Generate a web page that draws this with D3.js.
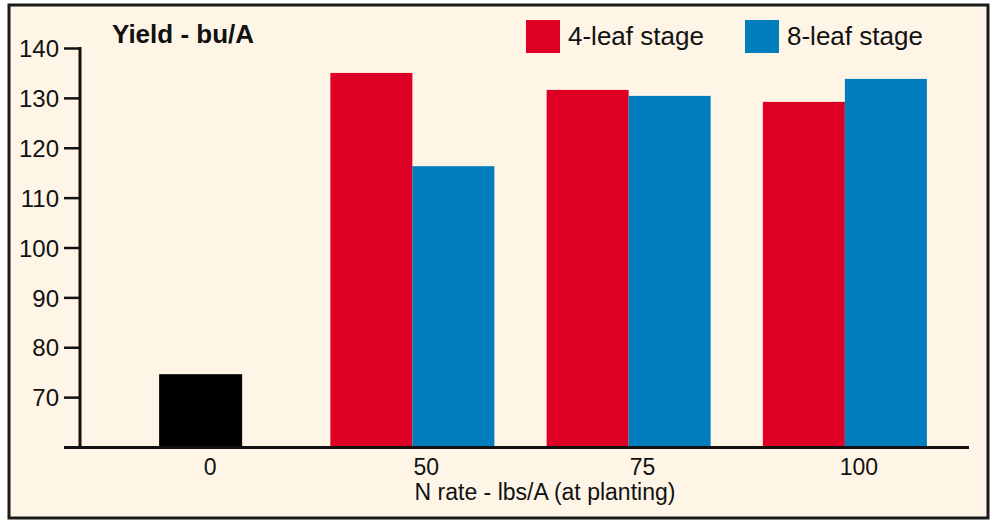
<!DOCTYPE html>
<html>
<head>
<meta charset="utf-8">
<script src="https://cdn.jsdelivr.net/npm/d3@7"></script>
<style>
  html, body { margin: 0; padding: 0; background: #ffffff; }
  svg { display: block; }
  text { font-family: "Liberation Sans", Arial, Helvetica, sans-serif; fill: #111; }
</style>
</head>
<body>
<svg id="chart" width="994" height="521"></svg>
<script>
// N rates at planting (lbs/A) and the corn yield (bu/A) at each rate
const rates = ["0", "50", "75", "100"];
const stages = ["4-leaf stage", "8-leaf stage"];
const checkYield = 74.6;                 // no nitrogen applied
const fedRates = ["50", "75", "100"];
const leaf4Yield = [135.0, 131.6, 129.2];
const leaf8Yield = [116.3, 130.4, 133.8];
const yTicks = [70, 80, 90, 100, 110, 120, 130, 140];

const stageColors = ["#dd0024", "#007dbd"];
const checkColor = "#000000";

const svg = d3.select("#chart");

// framed panel
svg.append("rect")
  .attr("x", 9).attr("y", 5)
  .attr("width", 979).attr("height", 513)
  .attr("fill", "#fff5e6")
  .attr("stroke", "#1a1a1a")
  .attr("stroke-width", 3);

const y = d3.scaleLinear().domain([60, 140]).range([447, 48]);
const x = d3.scaleBand().domain(rates).range([88, 953]).padding(0);
const barW = 82;
const inner = d3.scaleBand().domain(stages).range([0, barW * 2]);

// bars for the fed rates, one pair per rate
const rows = fedRates.map((r, i) => ({ rate: r, values: [leaf4Yield[i], leaf8Yield[i]] }));
const groups = svg.append("g").selectAll("g")
  .data(rows).join("g")
  .attr("transform", d => `translate(${x(d.rate) + x.bandwidth() / 2 - barW},0)`);
groups.selectAll("rect")
  .data(d => d.values.map((v, j) => ({ stage: stages[j], v, j })))
  .join("rect")
  .attr("x", d => inner(d.stage))
  .attr("width", inner.bandwidth())
  .attr("y", d => y(d.v))
  .attr("height", d => y(60) - y(d.v))
  .attr("fill", d => stageColors[d.j]);

// check plot (0 N)
svg.append("rect")
  .attr("x", x("0") + x.bandwidth() / 2 - barW / 2 + 4)
  .attr("width", barW + 1)
  .attr("y", y(checkYield))
  .attr("height", y(60) - y(checkYield))
  .attr("fill", checkColor);

// y axis
const yAxis = svg.append("g")
  .attr("transform", "translate(80,0)")
  .call(d3.axisLeft(y).tickValues(yTicks).tickSize(16).tickSizeOuter(0).tickPadding(5));
yAxis.select(".domain").attr("stroke", "#111").attr("stroke-width", 3)
  .attr("d", `M0,${y(60)}V${y(140) - 1}`);
yAxis.selectAll(".tick line").attr("stroke", "#111").attr("stroke-width", 2.5);
yAxis.selectAll(".tick text")
  .style("font-size", "24px").attr("fill", "#111").attr("dy", "0.36em");

// x axis line
svg.append("line")
  .attr("x1", 64).attr("x2", 969)
  .attr("y1", 447.5).attr("y2", 447.5)
  .attr("stroke", "#111").attr("stroke-width", 3);

// x tick labels
const xAxis = svg.append("g")
  .attr("transform", "translate(0,449)")
  .call(d3.axisBottom(x).tickSize(0).tickPadding(10));
xAxis.select(".domain").remove();
xAxis.selectAll(".tick text")
  .style("font-size", "23px").attr("fill", "#111").attr("dx", 14);

// axis titles
svg.append("text")
  .attr("x", 112).attr("y", 43)
  .style("font-size", "26px").style("font-weight", "bold")
  .text("Yield - bu/A");

svg.append("text")
  .attr("x", 545).attr("y", 500)
  .attr("text-anchor", "middle")
  .style("font-size", "23px")
  .text("N rate - lbs/A (at planting)");

// legend
const legendX = [526, 745];
const legend = svg.append("g").selectAll("g")
  .data(stages).join("g")
  .attr("transform", (d, i) => `translate(${legendX[i]},20)`);
legend.append("rect")
  .attr("width", 34).attr("height", 33)
  .attr("fill", (d, i) => stageColors[i]);
legend.append("text")
  .attr("x", 42).attr("y", 25)
  .style("font-size", "26px")
  .text(d => d);
</script>
</body>
</html>
